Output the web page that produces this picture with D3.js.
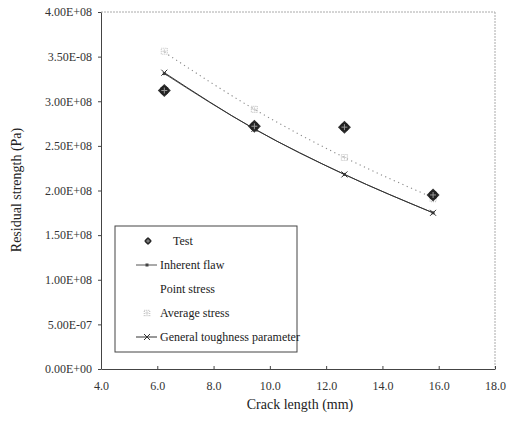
<!DOCTYPE html>
<html><head><meta charset="utf-8">
<script src="https://cdn.jsdelivr.net/npm/d3@7"></script>
<style>body{margin:0;background:#fff}svg{display:block}</style>
</head><body><svg id="c" width="512" height="433"></svg>
<script>
const crack = [6.25, 9.45, 12.65, 15.8];
const test = [3.12e8, 2.72e8, 2.71e8, 1.95e8];
const inherentFlaw = [3.31e8, 2.69e8, 2.18e8, 1.75e8];
const pointStress = [3.55e8, 2.91e8, 2.37e8, 1.92e8];
const averageStress = [3.56e8, 2.91e8, 2.37e8, 1.91e8];
const generalTough = [3.32e8, 2.69e8, 2.18e8, 1.75e8];
const xTicks = [4, 6, 8, 10, 12, 14, 16, 18];
const yTicks = [0, 0.5e8, 1e8, 1.5e8, 2e8, 2.5e8, 3e8, 3.5e8, 4e8];
const yTickLabels = ["0.00E+00","5.00E-07","1.00E+08","1.50E+08","2.00E+08","2.50E+08","3.00E+08","3.50E-08","4.00E+08"];
const legendLabels = ["Test","Inherent flaw","Point stress","Average stress","General toughness parameter"];

const FONT = '"Liberation Serif"';
const svg = d3.select("#c");
const L=101,R=495,T=12,B=369;
const x = d3.scaleLinear().domain([4,18]).range([L,R]);
const y = d3.scaleLinear().domain([0,4e8]).range([B,T]);

svg.append("line").attr("x1",L).attr("x2",R).attr("y1",T).attr("y2",T).attr("stroke","#aaa").attr("stroke-dasharray","2,1");
svg.append("line").attr("x1",R).attr("x2",R).attr("y1",T).attr("y2",B).attr("stroke","#aaa").attr("stroke-dasharray","2,1");

const xa = svg.append("g").attr("transform",`translate(0,${B})`)
  .call(d3.axisBottom(x).tickValues(xTicks).tickSizeInner(-3).tickSizeOuter(0).tickPadding(12).tickFormat(d3.format(".1f")));
const ya = svg.append("g").attr("transform",`translate(${L},0)`)
  .call(d3.axisLeft(y).tickValues(yTicks).tickSizeInner(3).tickSizeOuter(0).tickPadding(6).tickFormat((d,i)=>yTickLabels[i]));
[xa,ya].forEach(a=>{
  a.attr("font-family",null).attr("font-size",null);
  a.select(".domain").attr("stroke","#444");a.selectAll(".tick line").attr("stroke","#444");
  a.selectAll("text").style("font-family",FONT).style("font-size","12px").attr("fill","#333");});

svg.append("text").attr("x",300).attr("y",409).attr("text-anchor","middle").style("font-family",FONT).style("font-size","14px").attr("fill","#222").text("Crack length (mm)");
svg.append("text").attr("transform","translate(21,190) rotate(-90)").attr("text-anchor","middle").style("font-family",FONT).style("font-size","14px").attr("fill","#222").text("Residual strength (Pa)");

const lineGen = vals => d3.line().curve(d3.curveMonotoneX).x((d,i)=>x(crack[i])).y(d=>y(d))(vals);

svg.append("path").attr("d",lineGen(pointStress)).attr("fill","none").attr("stroke","#888").attr("stroke-width",1.1).attr("stroke-dasharray","1.2,3.5");
svg.append("path").attr("d",lineGen(inherentFlaw)).attr("fill","none").attr("stroke","#555").attr("stroke-width",1);
svg.append("path").attr("d",lineGen(generalTough)).attr("fill","none").attr("stroke","#333").attr("stroke-width",1);

function testMarker(g,cx,cy,s=1){
  const r=6.5*s;
  g.append("path").attr("d",`M${cx},${cy-r}L${cx+r},${cy}L${cx},${cy+r}L${cx-r},${cy}Z`).attr("fill","#333");
  g.append("circle").attr("cx",cx).attr("cy",cy).attr("r",4.5*s).attr("fill","#222");
  g.append("path").attr("d",`M${cx-3*s},${cy}H${cx+3*s}M${cx},${cy-3*s}V${cy+3*s}`).attr("stroke","#999").attr("stroke-width",1);
}
function avgMarker(g,cx,cy,s=1){
  g.append("path").attr("d",d3.symbol(d3.symbolSquare, 36*s*s)()).attr("transform",`translate(${cx},${cy})`).attr("fill","none").attr("stroke","#c4c4c4").attr("stroke-width",1.2).attr("stroke-dasharray","1,1");
  g.append("path").attr("d",`M${cx-2*s},${cy}H${cx+2*s}M${cx},${cy-2*s}V${cy+2*s}`).attr("stroke","#d0d0d0").attr("stroke-width",1);
}
function sqMarker(g,cx,cy){
  g.append("rect").attr("x",cx-1.5).attr("y",cy-1.5).attr("width",3).attr("height",3).attr("fill","#444");
}
function xMarker(g,cx,cy){
  g.append("path").attr("d",`M${cx-3},${cy-3}L${cx+3},${cy+3}M${cx+3},${cy-3}L${cx-3},${cy+3}`).attr("stroke","#333").attr("stroke-width",1);
}
const gm = svg.append("g");
inherentFlaw.forEach((v,i)=>sqMarker(gm,x(crack[i]),y(v)));
generalTough.forEach((v,i)=>xMarker(gm,x(crack[i]),y(v)));
averageStress.forEach((v,i)=>avgMarker(gm,x(crack[i]),y(v)));
test.forEach((v,i)=>testMarker(gm,x(crack[i]),y(v)));

const lg = svg.append("g");
lg.append("rect").attr("x",115).attr("y",226).attr("width",182).attr("height",126).attr("fill","#fff").attr("stroke","#444").attr("stroke-width",1);
const rowY = d3.range(5).map(i=>241+i*24);
legendLabels.forEach((t,i)=>{
  lg.append("text").attr("x",i===0?173:160).attr("y",rowY[i]+4).style("font-family",FONT).style("font-size","12px").attr("fill","#222").text(t);
});
testMarker(lg,148,rowY[0],0.6);
lg.append("line").attr("x1",136).attr("x2",157).attr("y1",rowY[1]).attr("y2",rowY[1]).attr("stroke","#555");
sqMarker(lg,147,rowY[1]);
avgMarker(lg,147,rowY[3],0.9);
lg.append("line").attr("x1",136).attr("x2",157).attr("y1",rowY[4]).attr("y2",rowY[4]).attr("stroke","#333");
xMarker(lg,147,rowY[4]);
</script></body></html>
